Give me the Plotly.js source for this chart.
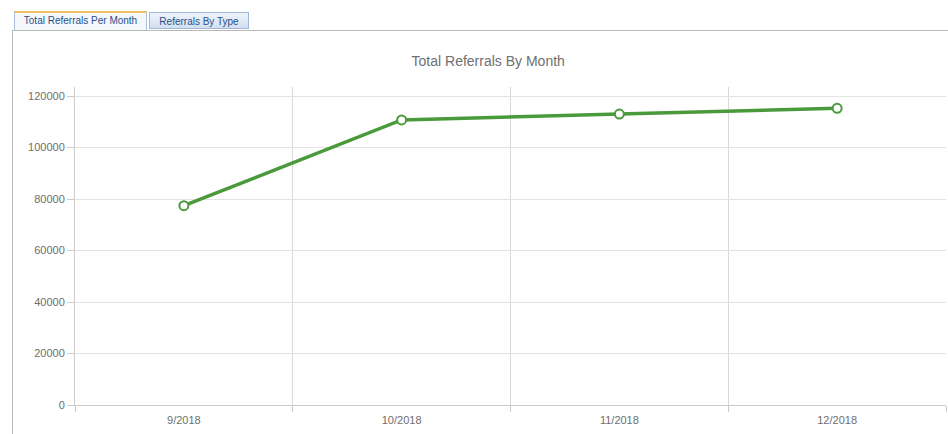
<!DOCTYPE html>
<html>
<head>
<meta charset="utf-8">
<script src="https://cdn.plot.ly/plotly-3.0.1.min.js"></script>
<style>
  html, body { margin: 0; padding: 0; background: #fff; width: 948px; height: 434px; overflow: hidden; position: relative; font-family: "Liberation Sans", Arial, sans-serif; }
  #chart { position: absolute; left: 0; top: 0; width: 948px; height: 434px; }
  .panel { position: absolute; left: 12px; top: 30px; width: 940px; height: 410px; border-left: 1px solid #b9b9b9; border-top: 1px solid #b9b9b9; }
  .tab { position: absolute; top: 12px; height: 17px; font-size: 10px; line-height: 17px; color: #2b4f86; text-align: center; box-sizing: border-box; white-space: nowrap; }
  .tab1 { left: 14px; width: 133px; background: #f4f7fb; border: 1px solid #a9c1e0; border-top: 2px solid #f0c060; border-bottom: none; height: 19px; top: 11px; line-height: 16px; }
  .tab2 { left: 149px; width: 100px; background: linear-gradient(#eef3fa, #d3e0f0); border: 1px solid #9fb7d8; }
</style>
</head>
<body>
<div class="panel"></div>
<div class="tab tab1">Total Referrals Per Month</div>
<div class="tab tab2">Referrals By Type</div>
<div id="chart"></div>
<script>
const months = ["9/2018", "10/2018", "11/2018", "12/2018"];
const referrals = [77400, 110700, 113000, 115200];
const yTicks = [0, 20000, 40000, 60000, 80000, 100000, 120000];

const trace = {
  x: months,
  y: referrals,
  type: "scatter",
  mode: "lines+markers",
  line: { color: "#4a9a3c", width: 3.5 },
  marker: { size: 9, color: "#ffffff", line: { color: "#4a9a3c", width: 2 } },
  hoverinfo: "x+y"
};

const layout = {
  width: 948,
  height: 434,
  paper_bgcolor: "rgba(0,0,0,0)",
  plot_bgcolor: "rgba(0,0,0,0)",
  margin: { l: 75, r: 2, t: 87, b: 29, pad: 0 },
  showlegend: false,
  font: { family: "Liberation Sans, Arial, sans-serif", color: "#6e6e6e", size: 11 },
  title: {
    text: "Total Referrals By Month",
    font: { size: 14, color: "#707070", family: "Liberation Sans, Arial, sans-serif" },
    xref: "container", x: 0.515, xanchor: "center",
    yref: "container", y: 1 - 61 / 434, yanchor: "middle"
  },
  xaxis: {
    type: "category",
    range: [-0.5, 3.5],
    tickson: "boundaries",
    ticks: "outside",
    ticklen: 6,
    tickcolor: "#cccccc",
    ticklabelstandoff: 5,
    showgrid: true,
    gridcolor: "#d9d9d9",
    gridwidth: 1,
    showline: true,
    linecolor: "#cccccc",
    linewidth: 1,
    zeroline: false,
    tickfont: { size: 11, color: "#6e6e6e" },
    fixedrange: true
  },
  yaxis: {
    range: [0, 123500],
    tickvals: yTicks,
    ticktext: yTicks.map(String),
    ticks: "outside",
    ticklen: 7,
    tickcolor: "#cccccc",
    showgrid: true,
    gridcolor: "#e3e3e3",
    gridwidth: 1,
    showline: true,
    linecolor: "#cccccc",
    linewidth: 1,
    zeroline: false,
    tickfont: { size: 11, color: "#6e6e6e" },
    fixedrange: true
  }
};

Plotly.newPlot("chart", [trace], layout, { displayModeBar: false, staticPlot: false });
</script>
</body>
</html>
